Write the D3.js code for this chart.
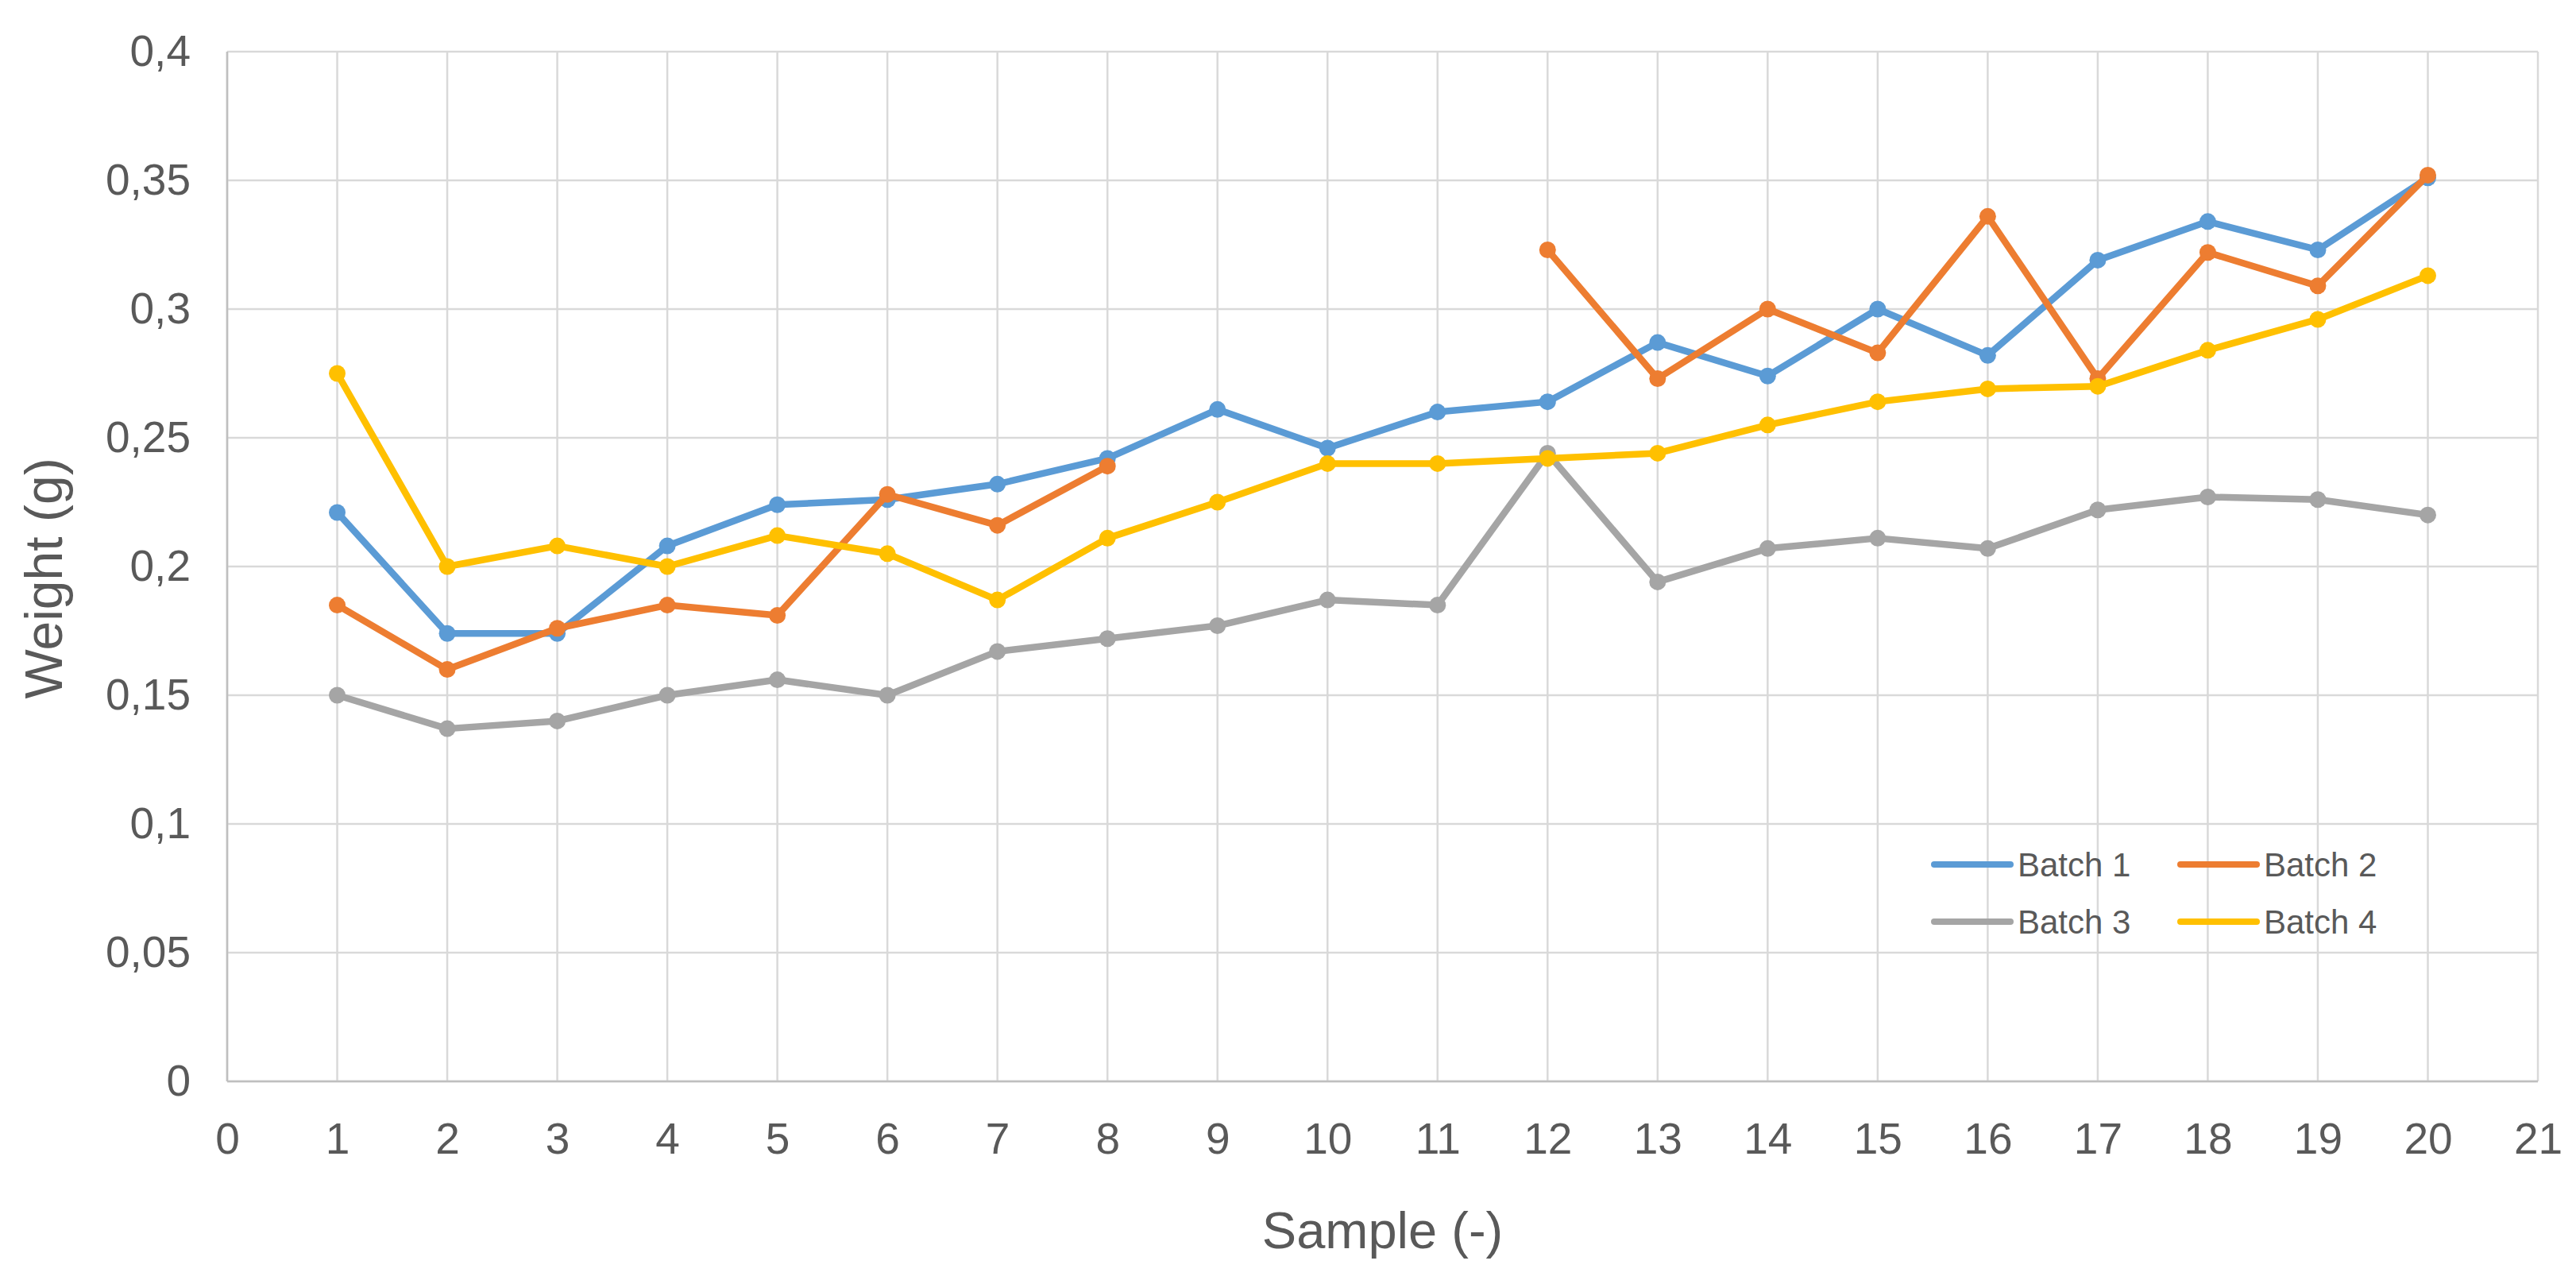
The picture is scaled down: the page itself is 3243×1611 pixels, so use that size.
<!DOCTYPE html>
<html>
<head>
<meta charset="utf-8">
<script src="https://cdn.jsdelivr.net/npm/d3@7"></script>
<style>
  body { margin: 0; background: #fff; }
  svg { display: block; font-family: "Liberation Sans", Arial, sans-serif; }
</style>
</head>
<body>
<div id="chart"></div>
<script>
// samples on the x axis
var samples = [1, 2, 3, 4, 5, 6, 7, 8, 9, 10, 11, 12, 13, 14, 15, 16, 17, 18, 19, 20];

// weight (g) per batch (null = no point)
var batch1 = [0.221, 0.174, 0.174, 0.208, 0.224, 0.226, 0.232, 0.242, 0.261, 0.246,
              0.260, 0.264, 0.287, 0.274, 0.300, 0.282, 0.319, 0.334, 0.323, 0.351];
var batch2 = [0.185, 0.160, 0.176, 0.185, 0.181, 0.228, 0.216, 0.239, null, null,
              null, 0.323, 0.273, 0.300, 0.283, 0.336, 0.273, 0.322, 0.309, 0.352];
var batch3 = [0.150, 0.137, 0.140, 0.150, 0.156, 0.150, 0.167, 0.172, 0.177, 0.187,
              0.185, 0.244, 0.194, 0.207, 0.211, 0.207, 0.222, 0.227, 0.226, 0.220];
var batch4 = [0.275, 0.200, 0.208, 0.200, 0.212, 0.205, 0.187, 0.211, 0.225, 0.240,
              0.240, 0.242, 0.244, 0.255, 0.264, 0.269, 0.270, 0.284, 0.296, 0.313];

var seriesNames = ["Batch 1", "Batch 2", "Batch 3", "Batch 4"];
var seriesColors = ["#5B9BD5", "#ED7D31", "#A5A5A5", "#FFC000"];

var xTicks = d3.range(0, 22);          // 0 .. 21
var yTicks = d3.range(0, 0.401, 0.05); // 0 .. 0,4

var W = 3243, H = 1611;
var margin = {top: 65, right: 48, bottom: 250, left: 286};
var width = W - margin.left - margin.right,
    height = H - margin.top - margin.bottom;

var svg = d3.select("#chart").append("svg")
    .attr("width", W)
    .attr("height", H);

var g = svg.append("g")
    .attr("transform", "translate(" + margin.left + "," + margin.top + ")");

var x = d3.scaleLinear().domain([0, 21]).range([0, width]);
var y = d3.scaleLinear().domain([0, 0.4]).range([height, 0]);

var comma = d3.formatLocale({decimal: ",", thousands: ".", grouping: [3], currency: ["", ""]}).format(".2~f");

// gridlines
g.append("g").selectAll("line").data(yTicks).enter().append("line")
    .attr("x1", 0).attr("x2", width)
    .attr("y1", function(d) { return y(d); }).attr("y2", function(d) { return y(d); })
    .attr("stroke", "#d9d9d9").attr("stroke-width", 2.5);
g.append("g").selectAll("line").data(xTicks).enter().append("line")
    .attr("x1", function(d) { return x(d); }).attr("x2", function(d) { return x(d); })
    .attr("y1", 0).attr("y2", height)
    .attr("stroke", "#d9d9d9").attr("stroke-width", 2.5);

// axes lines
g.append("line").attr("x1", 0).attr("x2", 0).attr("y1", 0).attr("y2", height)
    .attr("stroke", "#bfbfbf").attr("stroke-width", 2.5);
g.append("line").attr("x1", 0).attr("x2", width).attr("y1", height).attr("y2", height)
    .attr("stroke", "#bfbfbf").attr("stroke-width", 2.5);

// y axis labels
var yAxis = g.append("g")
    .call(d3.axisLeft(y).tickValues(yTicks).tickFormat(comma).tickSize(0).tickPadding(46));
yAxis.select(".domain").remove();
yAxis.selectAll("text")
    .attr("fill", "#595959")
    .style("font-size", "55px")
    .style("font-family", "Liberation Sans, Arial, sans-serif");

// x axis labels
var xAxis = g.append("g")
    .attr("transform", "translate(0," + height + ")")
    .call(d3.axisBottom(x).tickValues(xTicks).tickFormat(d3.format("d")).tickSize(0).tickPadding(52));
xAxis.select(".domain").remove();
xAxis.selectAll("text")
    .attr("fill", "#595959")
    .style("font-size", "55px")
    .style("font-family", "Liberation Sans, Arial, sans-serif");

// axis titles
svg.append("text")
    .attr("x", margin.left + width / 2)
    .attr("y", 1571)
    .attr("text-anchor", "middle")
    .attr("fill", "#595959")
    .style("font-size", "65px")
    .text("Sample (-)");

svg.append("text")
    .attr("transform", "translate(78,728) rotate(-90)")
    .attr("text-anchor", "middle")
    .attr("fill", "#595959")
    .style("font-size", "66px")
    .text("Weight (g)");

// lines + markers
var allSeries = [batch1, batch2, batch3, batch4];
var line = d3.line()
    .defined(function(d) { return d.v != null; })
    .x(function(d) { return x(d.s); })
    .y(function(d) { return y(d.v); });

allSeries.forEach(function(vals, i) {
  var pts = samples.map(function(s, j) { return {s: s, v: vals[j]}; });
  g.append("path")
      .datum(pts)
      .attr("fill", "none")
      .attr("stroke", seriesColors[i])
      .attr("stroke-width", 8.5)
      .attr("stroke-linejoin", "round")
      .attr("d", line);
  g.append("g").selectAll("circle")
      .data(pts.filter(function(d) { return d.v != null; }))
      .enter().append("circle")
      .attr("cx", function(d) { return x(d.s); })
      .attr("cy", function(d) { return y(d.v); })
      .attr("r", 10.5)
      .attr("fill", seriesColors[i]);
});

// legend
var legX = [2435, 2745], legY = [1088, 1160];
seriesNames.forEach(function(name, i) {
  var lx = legX[i % 2], ly = legY[Math.floor(i / 2)];
  svg.append("line")
      .attr("x1", lx).attr("x2", lx + 96)
      .attr("y1", ly).attr("y2", ly)
      .attr("stroke", seriesColors[i])
      .attr("stroke-width", 8)
      .attr("stroke-linecap", "round");
  svg.append("text")
      .attr("x", lx + 105)
      .attr("y", ly)
      .attr("dy", "0.35em")
      .attr("fill", "#595959")
      .style("font-size", "42px")
      .text(name);
});
</script>
</body>
</html>
